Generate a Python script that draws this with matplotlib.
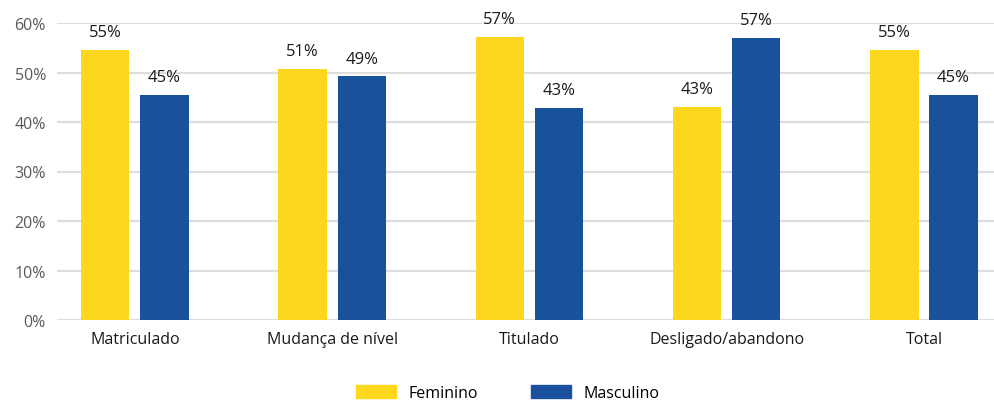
import matplotlib.pyplot as plt
import numpy as np
from matplotlib.patches import Patch

categories = ['Matriculado', 'Mudança de nível', 'Titulado', 'Desligado/abandono', 'Total']
feminino = [54.6, 50.8, 57.1, 43.1, 54.6]
masculino = [45.4, 49.2, 42.9, 56.9, 45.4]
yticks = [0, 10, 20, 30, 40, 50, 60]

yellow = '#FDD71E'
blue = '#1A519D'

plt.rcParams['font.family'] = ['Open Sans', 'DejaVu Sans']

fig = plt.figure(figsize=(9.95, 4.02), dpi=100)
ax = fig.add_axes([57 / 995, 81 / 402, 938 / 995, 297 / 402])

x = np.arange(len(categories))
w = 0.245
off = 0.15
b1 = ax.bar(x - off, feminino, w, color=yellow, zorder=3)
b2 = ax.bar(x + off, masculino, w, color=blue, zorder=3)

for bars, vals in [(b1, feminino), (b2, masculino)]:
    for b, v in zip(bars, vals):
        ax.text(b.get_x() + b.get_width() / 2, v + 2.0, '%d%%' % round(v),
                ha='center', va='bottom', fontsize=12, color='#1a1a1a', clip_on=False)

ax.set_xlim(-0.395, 4.36)
ax.set_ylim(0, 60)
ax.set_yticks(yticks)
ax.set_yticklabels(['%d%%' % t for t in yticks])
ax.set_xticks(x)
ax.set_xticklabels(categories)
ax.tick_params(axis='y', length=0, labelsize=11.5, labelcolor='#595959', pad=8)
ax.tick_params(axis='x', length=0, labelsize=11.5, labelcolor='#1a1a1a', pad=8)
ax.grid(axis='y', color='#DDDDDD', linewidth=1.6, zorder=0)
for s in ax.spines.values():
    s.set_visible(False)

handles = [Patch(color=yellow), Patch(color=blue)]
fig.legend(handles, ['Feminino', 'Masculino'], loc='center', bbox_to_anchor=(508 / 995, 1 - 394 / 402),
           ncol=2, frameon=False, fontsize=11.5, handlelength=2.5, handleheight=0.9,
           columnspacing=3.3, handletextpad=0.8)

fig.savefig('out.png', dpi=100)
